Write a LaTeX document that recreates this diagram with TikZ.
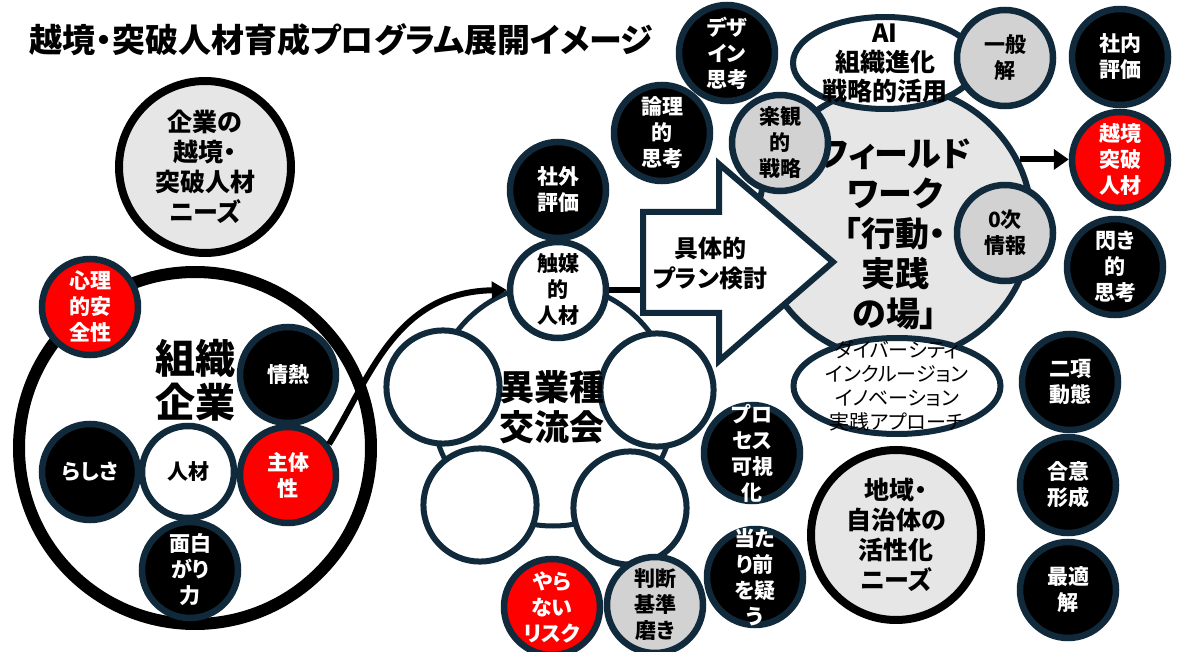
\documentclass[tikz,border=0pt]{standalone}
\usepackage{fontspec}
\setmainfont{Noto Sans CJK JP}[RawFeature=+palt]
\usetikzlibrary{shapes.geometric,arrows.meta}
\definecolor{navy}{HTML}{10293B}
\definecolor{lgray}{HTML}{E6E6E6}
\definecolor{mgray}{HTML}{D2D2D2}
\definecolor{bred}{HTML}{FF0000}
\newcommand\fs[2]{\fontsize{#1}{#2}\selectfont}
\begin{document}
\begin{tikzpicture}[x=1pt,y=-1pt,
  bub/.style={circle, draw=navy, line width=6.5pt, minimum size=96pt, inner sep=-40pt, align=center, font=\bfseries\fs{21}{26}},
  blk/.style={bub, fill=black, text=white},
  redb/.style={bub, fill=bred, text=white},
  gry/.style={bub, fill=mgray, text=black},
  wht/.style={bub, fill=white, text=black},
  emp/.style={bub, fill=white, minimum size=92pt, line width=6pt},
  needs/.style={circle, draw=black, line width=8pt, fill=lgray, minimum size=172pt, inner sep=-50pt, align=center, font=\bfseries\fs{25}{30}},
  oval/.style={ellipse, draw=navy, line width=6pt, fill=white, inner sep=-50pt, align=center},
  conn/.style={line width=6pt, draw=black}
]
\useasboundingbox[fill=white] (0,0) rectangle (1200,652);

% title
\node[anchor=west, font=\bfseries\fs{33}{40}] (title) at (26,40) {越境・突破人材育成プログラム展開イメージ};

% left group
\node[circle, draw=black, line width=12pt, fill=white, minimum size=352pt] (org) at (195,448) {};
\node[align=center, font=\bfseries\fs{40}{44}] (orgt) at (195,380) {組織\\企業};
\node[redb] (anshin) at (90,307) {心理\\的安\\全性};
\node[blk] (jonetsu) at (288,375) {情熱};
\node[blk] (rashisa) at (90,472) {らしさ};
\node[wht, minimum size=92pt] (jinzai) at (188,472) {人材};
\node[redb] (shutai) at (288,475) {主体\\性};
\node[blk] (omoshiro) at (190,570) {面白\\がり\\力};

\node[needs] (needs1) at (205,167) {企業の\\越境・\\突破人材\\ニーズ};

% exchange group
\coordinate (ringc) at (553,405);
\draw[navy, line width=5pt] (ringc) circle[radius=121];
\node[wht] (cat) at (558,290) {触媒\\的\\人材};
\node[emp] (e1) at (443,387) {};
\node[emp] (e2) at (657,390) {};
\node[emp] (e3) at (480,505) {};
\node[emp] (e4) at (630,508) {};
\node[align=center, font=\bfseries\fs{35}{40}] (ibt) at (552,407) {異業種\\交流会};
\node[blk] (shagai) at (558,190) {社外\\評価};

\draw[conn, -{Triangle[length=15pt,width=17pt]}] (shutai.37) .. controls (370,378) and (395,292) .. (cat.west);
\draw[conn] (cat.east) -- ++(45,0);

% field work
\node[circle, draw=navy, line width=6pt, fill=lgray, minimum size=274pt] (field) at (895,223) {};
\draw[navy, line width=6pt, fill=white, line join=miter] (643,212) -- (719,212) -- (719,164) -- (833,262) -- (719,361) -- (719,313) -- (643,313) -- cycle;
\node[align=center, font=\bfseries\fs{24}{30}] (plan) at (710,263) {具体的\\プラン検討};

\node[oval, minimum width=184pt, minimum height=92pt, font=\bfseries\fs{25}{29}] (ai) at (885,63) {AI\\組織進化\\戦略的活用};
\node[oval, minimum width=207pt, minimum height=96pt, font=\fs{20}{24}] (div) at (897,386) {ダイバーシティ\\インクルージョン\\イノベーション\\実践アプローチ};
\node[align=center, font=\bfseries\fs{34}{40}] (fieldt) at (895,234) {フィールド\\ワーク\\「行動・\\実践\\の場」};

\node[gry] (rakkan) at (780,143) {楽観\\的\\戦略};
\node[gry] (zero) at (1005,233) {0次\\情報};
\node[gry] (ippan) at (1005,58) {一般\\解};

\node[blk] (design) at (727,53) {デザ\\イン\\思考};
\node[blk] (ronri) at (662,133) {論理\\的\\思考};

% right column
\node[blk] (shanai) at (1120,57) {社内\\評価};
\node[redb] (ekkyo) at (1120,160) {越境\\突破\\人材};
\node[blk] (hirameki) at (1115,267) {閃き\\的\\思考};
\node[blk] (niko) at (1070,382) {二項\\動態};
\node[blk] (goi) at (1068,485) {合意\\形成};
\node[blk] (saiteki) at (1068,590) {最適\\解};

\draw[conn, -{Triangle[length=15pt,width=20pt]}] (field.27) -- (field.27 -| ekkyo.west);

% bottom middle
\node[needs, minimum size=170pt] (needs2) at (896,535) {地域・\\自治体の\\活性化\\ニーズ};
\node[blk] (process) at (752,453) {プロ\\セス\\可視\\化};
\node[blk] (atari) at (755,577) {当た\\り前\\を疑\\う};
\node[gry] (handan) at (655,605) {判断\\基準\\磨き};
\node[redb] (yaranai) at (552,607) {やら\\ない\\リスク};
\end{tikzpicture}
\end{document}
